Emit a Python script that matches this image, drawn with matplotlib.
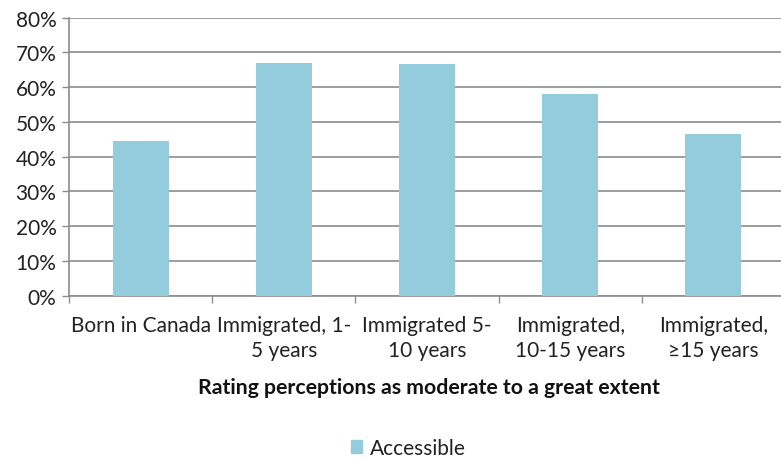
import matplotlib
matplotlib.use("Agg")
import matplotlib.pyplot as plt
from matplotlib.patches import Patch
import numpy as np

categories = ["Born in Canada", "Immigrated, 1-\n5 years", "Immigrated 5-\n10 years",
              "Immigrated,\n10-15 years", "Immigrated,\n\u226515 years"]
values = [44.4, 67.0, 66.7, 57.9, 46.6]
yticks = [0, 10, 20, 30, 40, 50, 60, 70, 80]
series_name = "Accessible"
xlabel = "Rating perceptions as moderate to a great extent"

plt.rcParams['font.family'] = ['Lato', 'DejaVu Sans']
W, H = 781, 460
fig = plt.figure(figsize=(W/100, H/100), dpi=100)
left, right, top, bottom = 69, 785, 18.7, 296.7
ax = fig.add_axes([left/W, 1-bottom/H, (right-left)/W, (bottom-top)/H])

bar_color = "#93CDDD"
grid_color = "#8C8C8C"
x = np.arange(len(categories))
ax.bar(x, values, width=0.39, color=bar_color, zorder=3)
ax.set_xlim(-0.5, len(categories)-0.5)
ax.set_ylim(0, 80)
ax.set_yticks(yticks)
ax.set_yticklabels([f"{v}%" for v in yticks], fontsize=15, color="#222222")
ax.yaxis.grid(True, color=grid_color, linewidth=1.2, zorder=0)
ax.tick_params(axis='y', length=5, width=1, color=grid_color, pad=4)

ax.set_xticks(np.arange(len(categories)+1)-0.5)
ax.set_xticklabels([])
ax.tick_params(axis='x', which='major', length=5, width=1, color=grid_color)
ax.set_xticks(x, minor=True)
ax.set_xticklabels(categories, minor=True, fontsize=15, color="#222222", linespacing=1.3)
ax.tick_params(axis='x', which='minor', length=0, pad=14)

for s in ['top', 'right']:
    ax.spines[s].set_visible(False)
for s in ['left', 'bottom']:
    ax.spines[s].set_color(grid_color)
    ax.spines[s].set_linewidth(1.2)

fig.text(429/W, 1-388/H, xlabel, ha='center', va='center', fontsize=15.3, fontweight='bold', color="#111111")

fig.legend(handles=[Patch(color=bar_color, label=series_name)], loc='center',
           bbox_to_anchor=(408/W, 1-449/H), frameon=False, fontsize=15,
           handlelength=0.55, handleheight=0.55, handletextpad=0.35, labelcolor="#222222")

fig.savefig("out.png", dpi=100)
